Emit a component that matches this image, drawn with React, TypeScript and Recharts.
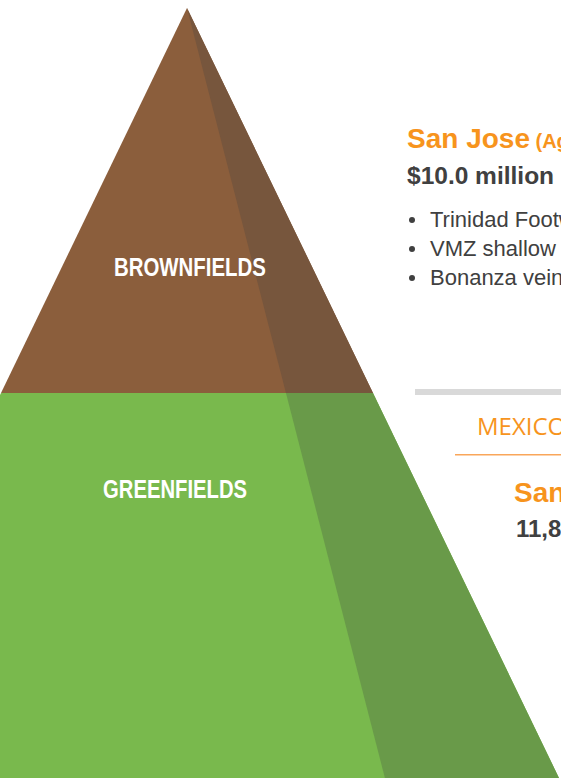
import React from 'react';
import { ComposedChart, Area, XAxis, YAxis, ReferenceDot } from 'recharts';

// pyramid cross-sections: height level (0 = base, 100 = apex), half-width units
const levels = [100, 50, 0];
const brownfields: (number[] | null)[] = [[0, 0], [-50, 50], null];
const brownfieldsShade: (number[] | null)[] = [[0, 0], [26.6, 50], null];
const greenfields: (number[] | null)[] = [null, [-50, 50], [-100, 100]];
const greenfieldsShade: (number[] | null)[] = [null, [26.6, 50], [53.2, 100]];

const tierNames = ['BROWNFIELDS', 'GREENFIELDS'];
const tierLabelX = [0.8, -3.2];
const tierLabelH = [66.4, 37.5];
const tierLabelWidth = [152, 144];

const bullets = ['Trinidad Footwall', 'VMZ shallow extension', 'Bonanza vein system'];

const rows = levels.map((h, i) => ({
    h,
    brown: brownfields[i] ?? undefined,
    brownShade: brownfieldsShade[i] ?? undefined,
    green: greenfields[i] ?? undefined,
    greenShade: greenfieldsShade[i] ?? undefined,
}));

const TierLabel = (props: any) => {
    const { viewBox, value, len } = props;
    const cx = viewBox.x + (viewBox.width || 0) / 2;
    const cy = viewBox.y + (viewBox.height || 0) / 2;
    return (
        <text x={cx} y={cy + 9} textAnchor="middle" fill="#ffffff" textLength={len} lengthAdjust="spacingAndGlyphs"
            style={{ fontFamily: '"Liberation Sans", Arial, sans-serif', fontWeight: 700, fontSize: 25 }}>
            {value}
        </text>
    );
};

export default function App() {
    return (
        <div style={{ position: 'absolute', left: 0, top: 0, width: 561, height: 778, overflow: 'hidden', background: '#fff' }}>
            <ComposedChart width={561} height={778} data={rows} layout="vertical"
                margin={{ top: 8, right: 0, bottom: 0, left: 0 }}>
                <XAxis type="number" hide domain={[-50.27, 100.54]} allowDataOverflow />
                <YAxis type="number" dataKey="h" hide domain={[0, 100]} reversed allowDataOverflow />
                <Area type="linear" dataKey="brown" fill="#8B5E3C" fillOpacity={1} stroke="none" isAnimationActive={false} />
                <Area type="linear" dataKey="brownShade" fill="#77563D" fillOpacity={1} stroke="none" isAnimationActive={false} />
                <Area type="linear" dataKey="green" fill="#79B94D" fillOpacity={1} stroke="none" isAnimationActive={false} />
                <Area type="linear" dataKey="greenShade" fill="#699A49" fillOpacity={1} stroke="none" isAnimationActive={false} />
                {tierNames.map((name, i) => (
                    <ReferenceDot key={name} x={tierLabelX[i]} y={tierLabelH[i]} r={0} stroke="none"
                        label={<TierLabel value={name} len={tierLabelWidth[i]} />} />
                ))}
            </ComposedChart>
            <svg width={561} height={778} style={{ position: 'absolute', left: 0, top: 0, pointerEvents: 'none' }}>
                <text x={407} y={148} fill="#F7941D" style={{ fontFamily: '"Liberation Sans", Arial, sans-serif', fontWeight: 700, fontSize: 28 }}>
                    San Jose<tspan style={{ fontSize: 20 }}> (Ag-Au)</tspan>
                </text>
                <text x={407} y={184} fill="#404040" style={{ fontFamily: '"Liberation Sans", Arial, sans-serif', fontWeight: 700, fontSize: 24.5 }}>
                    $10.0 million budget
                </text>
                {bullets.map((b, i) => (
                    <g key={b}>
                        <circle cx={412} cy={220 + i * 29} r={3} fill="#404040" />
                        <text x={430} y={227 + i * 29} fill="#404040" style={{ fontFamily: '"Liberation Sans", Arial, sans-serif', fontSize: 22 }}>{b}</text>
                    </g>
                ))}
                <rect x={415} y={389} width={146} height={6} fill="#D9D9D9" />
                <text x={477} y={435} fill="#F7941D" style={{ fontFamily: '"Open Sans", sans-serif', fontSize: 24 }}>MEXICO</text>
                <rect x={455} y={454} width={106} height={1.5} fill="#F9A65A" />
                <text x={514} y={502} fill="#F7941D" style={{ fontFamily: '"Liberation Sans", Arial, sans-serif', fontWeight: 700, fontSize: 28 }}>
                    San Dimas
                </text>
                <text x={516} y={537} fill="#404040" style={{ fontFamily: '"Liberation Sans", Arial, sans-serif', fontWeight: 700, fontSize: 24 }}>
                    11,800 metres
                </text>
            </svg>
        </div>
    );
}
